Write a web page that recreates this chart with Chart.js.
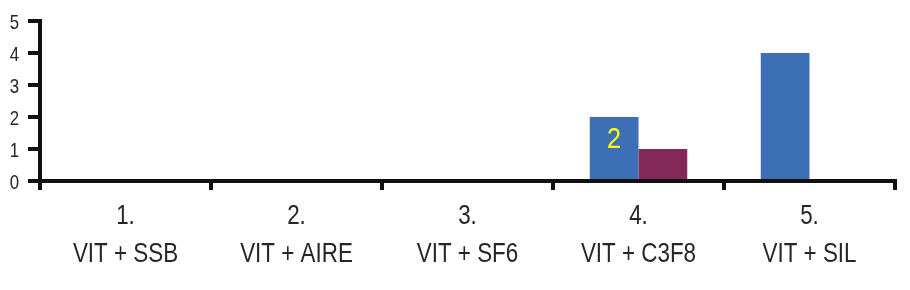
<!DOCTYPE html>
<html>
<head>
<meta charset="utf-8">
<title>VIT</title>
<script src="https://cdn.jsdelivr.net/npm/chart.js@4/dist/chart.umd.min.js"></script>
<style>
  html, body { margin: 0; padding: 0; background: #fff; }
  #wrap { width: 910px; height: 290px; }
</style>
</head>
<body>
<div id="wrap"><canvas id="chart" width="910" height="290"></canvas></div>
<script>
var categoryNumbers = ['1.', '2.', '3.', '4.', '5.'];
var categoryNames   = ['VIT + SSB', 'VIT + AIRE', 'VIT + SF6', 'VIT + C3F8', 'VIT + SIL'];
var blueValues      = [0, 0, 0, 2, 4];
var maroonValues    = [0, 0, 0, 1, 0];
var blueLabels      = [null, null, null, '2', null];
var yTicks          = [0, 1, 2, 3, 4, 5];

(function(Chart) {
  'use strict';

  var FONT = '"Liberation Sans", Arial, sans-serif';
  var TEXT = '#262626';

  var labels = categoryNumbers.map(function(n, i) {
    return [n, categoryNames[i]];
  });

  // no condensed face is installed, so squeeze the text by hand
  function narrowText(ctx, text, x, y, squeeze) {
    ctx.save();
    ctx.translate(x, y);
    ctx.scale(squeeze, 1);
    ctx.fillText(text, 0, 0);
    ctx.restore();
  }

  var condensedText = {
    id: 'condensedText',
    afterDraw: function(chart) {
      var ctx = chart.ctx;
      var xScale = chart.scales.x;
      var yScale = chart.scales.y;
      var meta = chart.getDatasetMeta(0);

      ctx.save();
      ctx.fillStyle = TEXT;
      ctx.textBaseline = 'alphabetic';

      // y axis numbers
      ctx.font = '21px ' + FONT;
      ctx.textAlign = 'right';
      yScale.ticks.forEach(function(t, i) {
        narrowText(ctx, String(t.value), 19, yScale.getPixelForTick(i) + 7.5, 0.8);
      });

      // category labels, two lines each
      ctx.font = '28px ' + FONT;
      ctx.textAlign = 'center';
      labels.forEach(function(lines, i) {
        var x = xScale.getPixelForTick(i);
        narrowText(ctx, lines[0], x, xScale.top + 43, 0.8);
        narrowText(ctx, lines[1], x, xScale.top + 81, 0.8);
      });

      // the single yellow value label inside the blue bar
      ctx.fillStyle = '#ffff00';
      ctx.font = '29px ' + FONT;
      meta.data.forEach(function(bar, i) {
        if (!blueLabels[i]) {
          return;
        }
        var y = bar.y + (bar.base - bar.y) * 0.34 + 10;
        narrowText(ctx, blueLabels[i], bar.x, y, 0.87);
      });

      ctx.restore();
    }
  };

  new Chart(document.getElementById('chart'), {
    type: 'bar',
    data: {
      labels: labels,
      datasets: [
        { data: blueValues,   backgroundColor: '#3d6fb6' },
        { data: maroonValues, backgroundColor: '#84285a' }
      ]
    },
    plugins: [condensedText],
    options: {
      responsive: false,
      animation: false,
      events: [],
      layout: { padding: { top: 18, right: 15, left: 0, bottom: 0 } },
      datasets: {
        bar: { categoryPercentage: 0.57, barPercentage: 1.0 }
      },
      plugins: {
        legend: { display: false },
        tooltip: { enabled: false }
      },
      scales: {
        x: {
          grid: {
            display: true,
            drawOnChartArea: false,
            color: '#111',
            lineWidth: 4,
            tickLength: 9,
            offset: true
          },
          border: { display: true, color: '#111', width: 4 },
          ticks: {
            color: 'rgba(0,0,0,0)',
            padding: 3,
            maxRotation: 0,
            font: { family: FONT, size: 28, lineHeight: 1.32 }
          },
          afterFit: function(scale) { scale.height = 109; }
        },
        y: {
          min: 0,
          max: 5,
          afterBuildTicks: function(scale) {
            scale.ticks = yTicks.map(function(v) { return { value: v }; });
          },
          grid: {
            display: true,
            drawOnChartArea: false,
            color: '#111',
            lineWidth: 4,
            tickLength: 12
          },
          border: { display: true, color: '#111', width: 4 },
          ticks: {
            color: 'rgba(0,0,0,0)',
            padding: 9,
            font: { family: FONT, size: 20 }
          },
          afterFit: function(scale) { scale.width = 40; }
        }
      }
    }
  });

}(Chart));
</script>
</body>
</html>
